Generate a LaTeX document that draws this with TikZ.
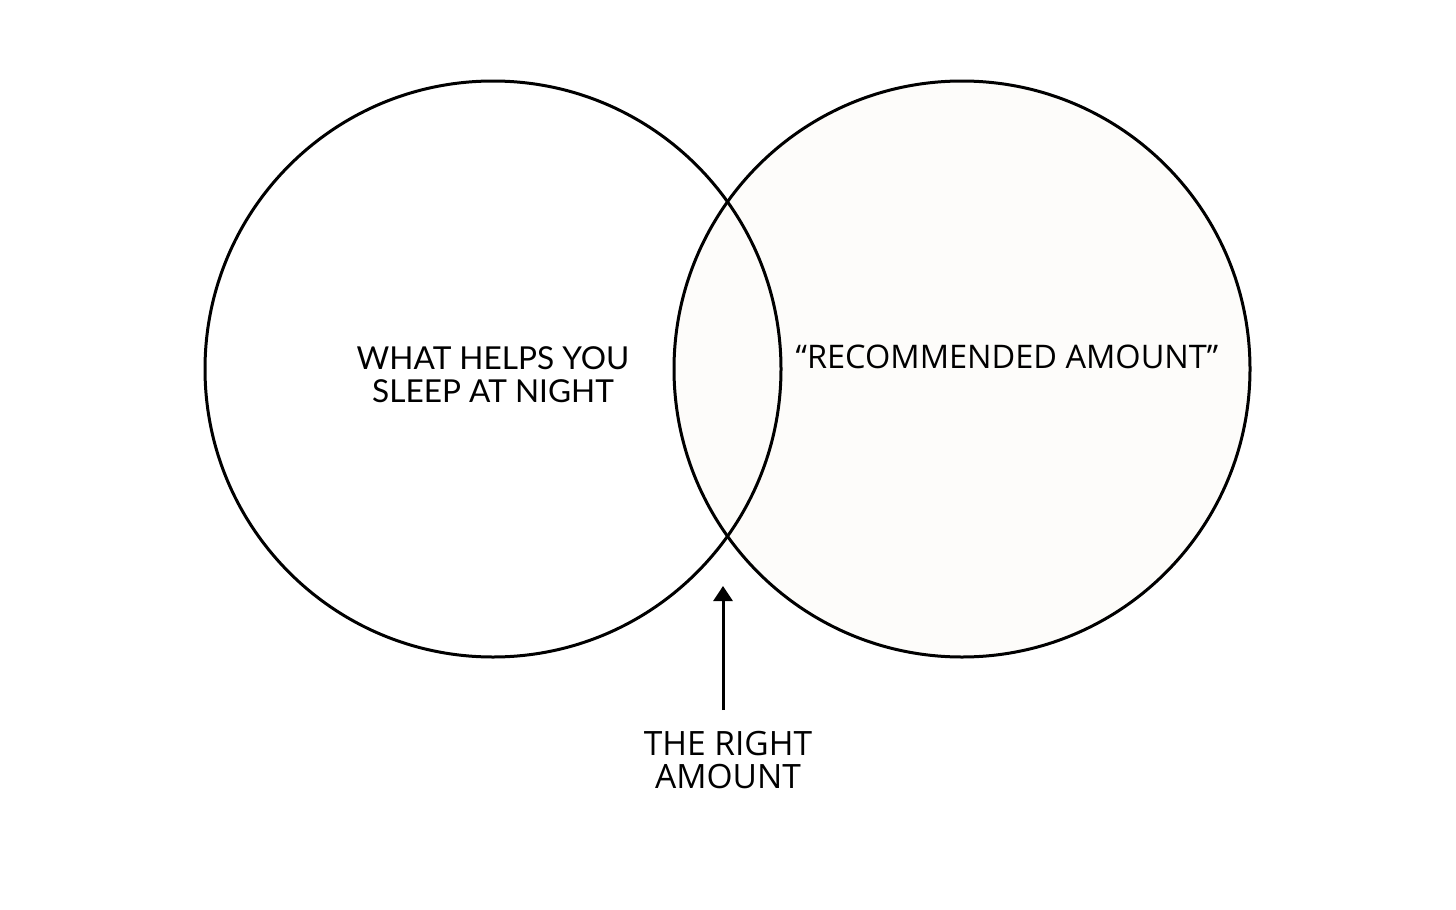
\documentclass[tikz,border=0pt]{standalone}
\usepackage{fontspec}
\setmainfont{Open Sans}
\newfontfamily\leftfont{Lato}
\usepackage{xcolor}
\usetikzlibrary{positioning, arrows.meta}
\definecolor{paper}{RGB}{253,252,250}
\tikzset{
  set/.style={circle, draw=black, line width=3pt, minimum size=576pt, inner sep=0pt},
  label/.style={align=center, font=\fontsize{32.5}{33}\selectfont, inner sep=0pt},
  arrow/.style={line width=3pt, -{Triangle[length=15pt, width=19pt]}},
}

\begin{document}
\begin{tikzpicture}[x=1pt, y=-1pt]
  \useasboundingbox (0,0) rectangle (1456,910);

  \node[set, fill=paper] (rec) at (962,369) {};
  \node[set] (sleep) at (493,369) {};

  \node[label, font=\leftfont\fontsize{31.6}{33}\selectfont] (sleeptext) at (493,375) {WHAT HELPS YOU\\SLEEP AT NIGHT};
  \node[label] (rectext) at (1007,357) {“RECOMMENDED AMOUNT”};
  \node[label, font=\fontsize{33.5}{33}\selectfont, anchor=north] (right) at (728,731) {THE RIGHT\\AMOUNT};

  \coordinate (tip) at (723,586);
  \draw[arrow, shorten <=21pt] (right.north -| tip) -- (tip);
\end{tikzpicture}
\end{document}
